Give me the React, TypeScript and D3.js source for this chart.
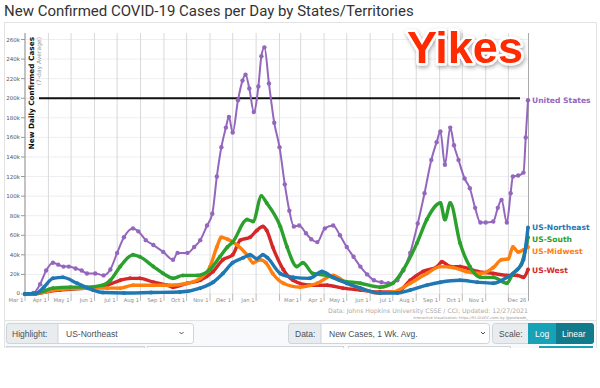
import React from "react";
import * as d3 from "d3";

const W = 600;
const H = 388;

// values in thousands of cases per day (7-day average)
const unitedStates: [string, number][] = [
  ["2020-03-01", 0], ["2020-03-12", 1], ["2020-03-21", 10], ["2020-03-29", 24], ["2020-04-07", 32],
  ["2020-04-14", 30], ["2020-04-21", 28], ["2020-04-28", 28], ["2020-05-07", 26], ["2020-05-15", 24],
  ["2020-05-22", 21], ["2020-06-02", 21], ["2020-06-13", 19], ["2020-06-22", 25], ["2020-07-01", 42],
  ["2020-07-10", 58], ["2020-07-22", 67], ["2020-07-29", 64], ["2020-08-08", 55], ["2020-08-18", 50],
  ["2020-08-31", 43], ["2020-09-13", 35], ["2020-09-19", 42], ["2020-10-02", 42], ["2020-10-11", 48],
  ["2020-10-19", 55], ["2020-10-28", 70], ["2020-11-04", 82], ["2020-11-10", 120], ["2020-11-16", 150],
  ["2020-11-22", 170], ["2020-11-26", 181], ["2020-12-01", 165], ["2020-12-08", 198], ["2020-12-14", 218],
  ["2020-12-18", 224], ["2020-12-23", 210], ["2020-12-29", 186], ["2021-01-04", 212], ["2021-01-08", 243],
  ["2021-01-12", 252], ["2021-01-18", 215], ["2021-01-25", 175], ["2021-02-01", 150], ["2021-02-08", 112],
  ["2021-02-14", 85], ["2021-02-20", 69], ["2021-02-27", 70], ["2021-03-08", 62], ["2021-03-15", 56],
  ["2021-03-23", 53], ["2021-04-02", 67], ["2021-04-13", 70], ["2021-04-22", 60], ["2021-05-01", 48],
  ["2021-05-10", 38], ["2021-05-19", 28], ["2021-05-28", 20], ["2021-06-06", 14], ["2021-06-16", 12],
  ["2021-06-25", 11], ["2021-07-07", 14], ["2021-07-15", 24], ["2021-07-24", 42], ["2021-08-03", 72],
  ["2021-08-12", 103], ["2021-08-21", 137], ["2021-08-28", 155], ["2021-09-02", 166], ["2021-09-08", 132],
  ["2021-09-15", 170], ["2021-09-20", 152], ["2021-09-26", 137], ["2021-10-04", 118], ["2021-10-11", 108],
  ["2021-10-18", 88], ["2021-10-25", 73], ["2021-11-01", 73], ["2021-11-11", 74], ["2021-11-17", 88],
  ["2021-11-22", 96], ["2021-11-29", 73], ["2021-12-04", 103], ["2021-12-07", 120], ["2021-12-14", 121],
  ["2021-12-21", 124], ["2021-12-24", 160], ["2021-12-27", 198],
];

const usNortheast: [string, number][] = [
  ["2020-03-01", 0], ["2020-03-15", 0.5], ["2020-03-26", 7], ["2020-04-07", 16], ["2020-04-20", 17],
  ["2020-05-09", 11], ["2020-05-30", 4], ["2020-06-12", 1.5], ["2020-07-10", 1], ["2020-08-15", 1.5],
  ["2020-09-22", 2], ["2020-10-19", 6], ["2020-11-05", 12], ["2020-11-18", 21], ["2020-12-01", 32],
  ["2020-12-15", 37], ["2020-12-24", 40], ["2021-01-02", 36], ["2021-01-10", 40], ["2021-01-16", 37],
  ["2021-02-02", 21], ["2021-02-19", 17], ["2021-03-13", 16], ["2021-03-29", 23], ["2021-04-13", 17],
  ["2021-05-01", 11], ["2021-05-19", 6], ["2021-06-14", 1], ["2021-07-07", 1], ["2021-07-24", 4],
  ["2021-08-15", 9], ["2021-09-02", 12], ["2021-09-28", 14], ["2021-10-21", 12], ["2021-11-11", 11],
  ["2021-11-29", 17], ["2021-12-13", 25], ["2021-12-21", 35], ["2021-12-27", 68],
];

const usSouth: [string, number][] = [
  ["2020-03-01", 0], ["2020-03-15", 0.5], ["2020-03-26", 3], ["2020-04-07", 6], ["2020-04-30", 7],
  ["2020-05-22", 7], ["2020-06-12", 9], ["2020-06-22", 14], ["2020-07-05", 28], ["2020-07-22", 40],
  ["2020-07-31", 38], ["2020-08-18", 28], ["2020-08-31", 21], ["2020-09-13", 16], ["2020-09-26", 19],
  ["2020-10-15", 19], ["2020-11-01", 25], ["2020-11-14", 38], ["2020-11-24", 48], ["2020-12-01", 53],
  ["2020-12-20", 76], ["2020-12-28", 74], ["2021-01-08", 100], ["2021-01-15", 93], ["2021-02-02", 69],
  ["2021-02-11", 48], ["2021-02-24", 28], ["2021-03-04", 32], ["2021-03-17", 21], ["2021-04-05", 19],
  ["2021-04-22", 14], ["2021-05-19", 11], ["2021-06-14", 7], ["2021-07-01", 11], ["2021-07-15", 25],
  ["2021-08-02", 52], ["2021-08-15", 76], ["2021-09-02", 93], ["2021-09-08", 76], ["2021-09-15", 93],
  ["2021-09-28", 52], ["2021-10-11", 28], ["2021-10-25", 17], ["2021-11-11", 17], ["2021-11-29", 11],
  ["2021-12-07", 21], ["2021-12-18", 30], ["2021-12-27", 58],
];

const usMidwest: [string, number][] = [
  ["2020-03-01", 0], ["2020-03-15", 0.3], ["2020-03-28", 2], ["2020-04-07", 4], ["2020-05-22", 6],
  ["2020-06-18", 6], ["2020-07-05", 6], ["2020-07-22", 9], ["2020-08-18", 9], ["2020-09-09", 9],
  ["2020-10-02", 11], ["2020-10-19", 16], ["2020-11-01", 28], ["2020-11-10", 48], ["2020-11-16", 58],
  ["2020-11-24", 56], ["2020-12-07", 50], ["2020-12-20", 40], ["2020-12-28", 32], ["2021-01-06", 35],
  ["2021-01-14", 32], ["2021-01-23", 21], ["2021-02-06", 11], ["2021-02-28", 7], ["2021-03-23", 11],
  ["2021-04-13", 19], ["2021-05-01", 11], ["2021-05-19", 6], ["2021-06-10", 1], ["2021-07-01", 2],
  ["2021-07-24", 11], ["2021-08-15", 21], ["2021-09-02", 28], ["2021-09-19", 27], ["2021-10-06", 23],
  ["2021-10-25", 21], ["2021-11-11", 27], ["2021-11-22", 35], ["2021-12-01", 36], ["2021-12-07", 48],
  ["2021-12-14", 43], ["2021-12-21", 45], ["2021-12-27", 48],
];

const usWest: [string, number][] = [
  ["2020-03-01", 0], ["2020-03-15", 0.3], ["2020-03-28", 2], ["2020-04-16", 4], ["2020-05-22", 6],
  ["2020-06-18", 9], ["2020-07-05", 14], ["2020-07-18", 16], ["2020-07-31", 16], ["2020-08-18", 12],
  ["2020-09-05", 9], ["2020-09-13", 7], ["2020-10-02", 11], ["2020-10-19", 14], ["2020-11-05", 23],
  ["2020-11-18", 35], ["2020-12-01", 40], ["2020-12-11", 55], ["2020-12-24", 58], ["2021-01-02", 65],
  ["2021-01-10", 69], ["2021-01-15", 65], ["2021-01-23", 48], ["2021-02-06", 25], ["2021-02-19", 14],
  ["2021-03-13", 9], ["2021-04-05", 9], ["2021-04-26", 6], ["2021-05-19", 4], ["2021-06-14", 2],
  ["2021-07-07", 2], ["2021-07-24", 14], ["2021-08-10", 23], ["2021-08-29", 28], ["2021-09-04", 33],
  ["2021-09-15", 28], ["2021-09-28", 28], ["2021-10-21", 23], ["2021-11-11", 21], ["2021-11-29", 19],
  ["2021-12-13", 19], ["2021-12-21", 17], ["2021-12-27", 25],
];

const seriesNames = ["United States", "US-Northeast", "US-South", "US-Midwest", "US-West"];
const seriesColors = ["#9467bd", "#1f77b4", "#2ca02c", "#ff7f0e", "#d62728"];
const seriesData = [unitedStates, usNortheast, usSouth, usMidwest, usWest];

const yTicks = [0, 20, 40, 60, 80, 100, 120, 140, 160, 180, 200, 220, 240, 260];
const hiddenMonthLabels = ["2021-02-01", "2021-12-01"];
const lastTickLabel = "Dec 26";
const referenceLine = 200;

const parse = d3.timeParse("%Y-%m-%d");
const fmt = d3.timeFormat("%Y-%m-%d");
const monthFmt = d3.timeFormat("%b %-d");

const left = 25;
const right = 528;
const top = 33;
const bottom = 294;

const x = d3.scaleTime().domain([parse("2020-03-01")!, parse("2021-12-27")!]).range([left, right]);
const y = d3.scaleLinear().domain([0, 260]).range([bottom, 39.5]);

const font = "'DejaVu Sans', sans-serif";

export default function App() {
  const months = d3.timeMonth.range(parse("2020-03-01")!, parse("2021-12-27")!);
  const line = d3
    .line<[string, number]>()
    .x((d) => x(parse(d[0])!))
    .y((d) => y(d[1]))
    .curve(d3.curveMonotoneX);

  // end labels, nudged apart
  const labelY = seriesData.map((s) => y(s[s.length - 1][1]));
  const order = d3.range(1, 5).sort((a, b) => labelY[a] - labelY[b]);
  for (let i = 1; i < order.length; i++) {
    const p = order[i - 1], c = order[i];
    if (labelY[c] - labelY[p] < 12) labelY[c] = labelY[p] + 12;
  }

  const drawOrder = [0, 4, 3, 2, 1];

  return (
    <svg width={W} height={H} style={{ position: "absolute", left: 0, top: 0, background: "#fff" }}>
      <defs>
        <filter id="yk" x="-20%" y="-30%" width="140%" height="160%">
          <feDropShadow dx="1" dy="2" stdDeviation="2" floodColor="#000" floodOpacity="0.35" />
        </filter>
      </defs>

      <text x={4} y={16} fontFamily="Roboto, sans-serif" fontSize={15} fill="#333">
        New Confirmed COVID-19 Cases per Day by States/Territories
      </text>

      {/* chart panel */}
      <rect x={4.5} y={22.5} width={592} height={298} fill="#fff" stroke="#e2e2e2" />

      {/* grid */}
      {yTicks.map((t) => (
        <line key={"h" + t} x1={left} x2={right} y1={y(t)} y2={y(t)} stroke="#eeeef2" strokeWidth={1} />
      ))}
      {months.map((m) => (
        <line key={"v" + fmt(m)} x1={x(m)} x2={x(m)} y1={top} y2={bottom} stroke="#d9d9dd" strokeWidth={1} />
      ))}
      <line x1={right + 0.5} x2={right + 0.5} y1={top} y2={bottom + 7} stroke="#aaa" />
      <line x1={left} x2={left} y1={top} y2={bottom} stroke="#999" />

      {/* y axis */}
      {yTicks.map((t) => (
        <g key={"yt" + t}>
          <line x1={left - 4} x2={left} y1={y(t)} y2={y(t)} stroke="#999" />
          <text x={left - 5} y={y(t) + (t === 0 ? 1 : 2)} textAnchor="end" fontFamily={font} fontSize={5.5} fill="#555">
            {t === 0 ? "0" : t + "k"}
          </text>
        </g>
      ))}

      {/* x axis */}
      {months.map((m) => (
        <g key={"xt" + fmt(m)}>
          <line x1={x(m)} x2={x(m)} y1={bottom} y2={bottom + 7} stroke="#bbb" />
          {!hiddenMonthLabels.includes(fmt(m)) && (
            <text x={x(m) - 1.5} y={bottom + 7.5} textAnchor="end" fontFamily={font} fontSize={5.3} fill="#888">
              {monthFmt(m)}
            </text>
          )}
        </g>
      ))}
      <text x={right - 1.5} y={bottom + 7.5} textAnchor="end" fontFamily={font} fontSize={5.3} fill="#888">
        {lastTickLabel}
      </text>

      {/* axis title */}
      <text transform={`translate(34,37) rotate(-90)`} textAnchor="end" fontFamily={font} fontWeight="bold" fontSize={7.3} fill="#111">
        New Daily Confirmed Cases
      </text>
      <text transform={`translate(41,37) rotate(-90)`} textAnchor="end" fontFamily={font} fontSize={6} fill="#999">
        (7-day Average)
      </text>

      {/* reference line */}
      <line x1={39} x2={520} y1={y(referenceLine)} y2={y(referenceLine)} stroke="#111" strokeWidth={2} />

      {/* series */}
      {drawOrder.map((i) => (
        <g key={seriesNames[i]}>
          <path d={line(seriesData[i]) || ""} fill="none" stroke={seriesColors[i]} strokeWidth={i === 0 ? 2 : 3.4} strokeLinejoin="round" />
          {seriesData[i].map((d) => (
            <circle key={d[0]} cx={x(parse(d[0])!)} cy={y(d[1])} r={i === 0 ? 2.2 : 2} fill={seriesColors[i]} />
          ))}
        </g>
      ))}

      {/* end labels */}
      {seriesNames.map((n, i) => (
        <text key={"l" + n} x={532} y={labelY[i] + 3} fontFamily={font} fontWeight="bold" fontSize={7.6} fill={seriesColors[i]}>
          {n}
        </text>
      ))}

      {/* Yikes */}
      <text x={407} y={63} fontFamily="'Liberation Sans', Arial, sans-serif" fontWeight="bold" fontSize={45}
        fill="#ff2a00" stroke="#fff" strokeWidth={5} paintOrder="stroke" strokeLinejoin="round" filter="url(#yk)">
        Yikes
      </text>

      {/* source */}
      <text x={528} y={313} textAnchor="end" fontFamily={font} fontSize={6.2} fill="#aaa">
        Data: Johns Hopkins University CSSE / CCI; Updated: 12/27/2021
      </text>
      <text x={528} y={318.5} textAnchor="end" fontFamily={font} fontSize={3.6} fill="#999">
        Interactive Visualization: https://91-DIVOC.com/ by @profwade_
      </text>

      {/* controls */}
      <rect x={4.5} y={320.5} width={592} height={28} fill="#f8f9fa" stroke="#e2e2e2" />
      <g fontFamily="'Liberation Sans', Arial, sans-serif" fontSize={8.5} fill="#495057">
        <rect x={6.5} y={323.5} width={187} height={20} rx={3} fill="#fff" stroke="#ced4da" />
        <path d="M6.5 326.5 a3 3 0 0 1 3 -3 H58 V343.5 H9.5 a3 3 0 0 1 -3 -3 Z" fill="#e9ecef" stroke="#ced4da" />
        <text x={12} y={336.5}>Highlight:</text>
        <text x={66} y={336.5}>US-Northeast</text>
        <path d="M179.5 332 l2 2 l2 -2" fill="none" stroke="#495057" strokeWidth={1} />

        <rect x={288.5} y={323.5} width={201} height={20} rx={3} fill="#fff" stroke="#ced4da" />
        <path d="M288.5 326.5 a3 3 0 0 1 3 -3 H321 V343.5 H291.5 a3 3 0 0 1 -3 -3 Z" fill="#e9ecef" stroke="#ced4da" />
        <text x={295} y={336.5}>Data:</text>
        <text x={329} y={336.5}>New Cases, 1 Wk. Avg.</text>
        <path d="M481 332 l2 2 l2 -2" fill="none" stroke="#495057" strokeWidth={1} />

        <rect x={492.5} y={323.5} width={101} height={20} rx={3} fill="#e9ecef" stroke="#ced4da" />
        <text x={499} y={336.5}>Scale:</text>
        <rect x={528} y={323} width={28} height={21} fill="#17a2b8" />
        <path d="M556 323 H591 a3 3 0 0 1 3 3 V341 a3 3 0 0 1 -3 3 H556 Z" fill="#117a8b" />
        <text x={535} y={336.5} fill="#fff">Log</text>
        <text x={562} y={336.5} fill="#fff">Linear</text>

        {/* next row, cut off */}
        <rect x={6.5} y={346.5} width={138} height={10} fill="#e9ecef" stroke="#ced4da" />
        <rect x={147.5} y={346.5} width={196} height={10} fill="#fff" stroke="#ced4da" />
        <rect x={348.5} y={346.5} width={162} height={10} fill="#fff" stroke="#ced4da" />
        <rect x={539} y={346} width={54} height={10} fill="#17a2b8" />
      </g>
      <rect x={0} y={348} width={W} height={H - 348} fill="#fff" />
    </svg>
  );
}
